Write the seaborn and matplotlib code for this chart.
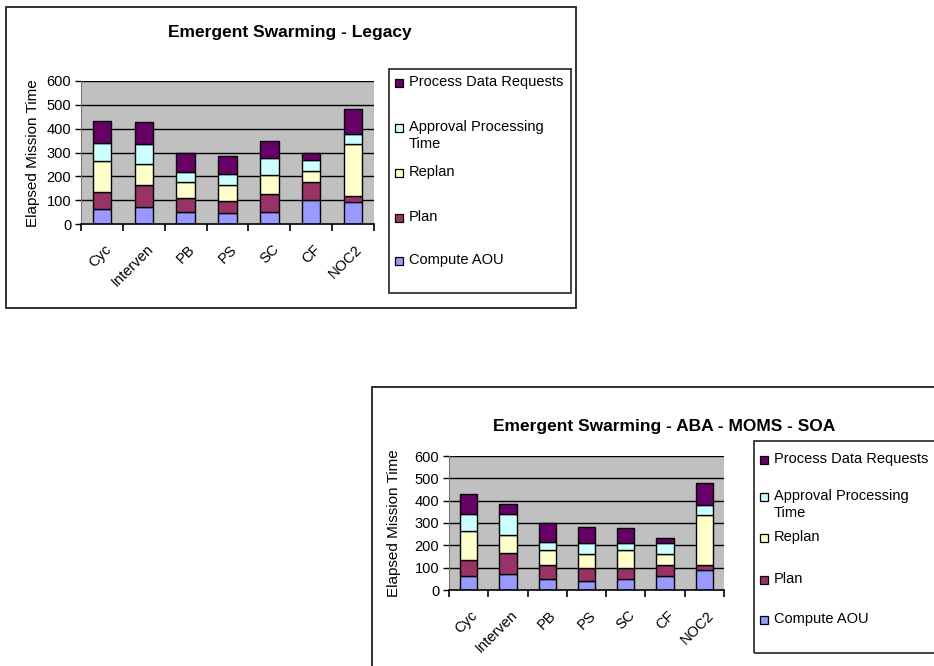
import numpy as np
import pandas as pd
import matplotlib
matplotlib.use("Agg")
import matplotlib.pyplot as plt
from matplotlib.patches import Rectangle
import seaborn as sns

# ---- data -------------------------------------------------------------
missions = ["Cyc", "Interven", "PB", "PS", "SC", "CF", "NOC2"]
series_names = ["Compute AOU", "Plan", "Replan",
                "Approval Processing Time", "Process Data Requests"]
legend_labels = ["Compute AOU", "Plan", "Replan",
                 "Approval Processing\nTime", "Process Data Requests"]

legacy_compute = [63, 72, 50, 45, 50, 99, 91]
legacy_plan = [73, 92, 61, 52, 74, 79, 27]
legacy_replan = [129, 88, 67, 67, 81, 45, 216]
legacy_approval = [73, 85, 39, 46, 74, 47, 45]
legacy_process = [94, 91, 81, 76, 68, 26, 102]

soa_compute = [64, 70, 48, 42, 48, 64, 91]
soa_plan = [71, 94, 65, 58, 52, 49, 22]
soa_replan = [128, 84, 64, 62, 77, 49, 222]
soa_approval = [76, 91, 36, 49, 34, 49, 44]
soa_process = [90, 48, 85, 73, 67, 20, 102]

y_ticks = [0, 100, 200, 300, 400, 500, 600]

colors = ["#9999FF", "#993366", "#FFFFCC", "#CCFFFF", "#660066"]

FONT = "Liberation Sans"
plt.rcParams["font.family"] = [FONT, "DejaVu Sans"]

W, H = 934, 666
fig = plt.figure(figsize=(W / 100, H / 100), dpi=100)
fig.patch.set_facecolor("white")

TICK_FS = 10.5
LEG_FS = 10.5
TITLE_FS = 12.5
YLAB_FS = 11


def px_rect(x0, y0, x1, y1, lw=1.3):
    """Rectangle given in pixel coordinates (origin top-left)."""
    r = Rectangle((x0 / W, 1 - y1 / H), (x1 - x0) / W, (y1 - y0) / H,
                  transform=fig.transFigure, fill=False,
                  edgecolor="#222222", linewidth=lw, clip_on=False)
    fig.add_artist(r)


def px_text(x, y, s, **kw):
    fig.text(x / W, 1 - y / H, s, **kw)


def stacked_chart(ax, series):
    df = pd.DataFrame({name: vals for name, vals in zip(series_names, series)},
                      index=missions)
    bottom = np.zeros(len(missions))
    for name, col in zip(series_names, colors):
        sns.barplot(x=missions, y=df[name].values, bottom=bottom, color=col,
                    edgecolor="black", linewidth=1.0, width=0.44,
                    errorbar=None, saturation=1, ax=ax)
        bottom = bottom + df[name].values
    ax.set_facecolor("#C0C0C0")
    ax.set_ylim(0, 600)
    ax.set_xlim(-0.5, len(missions) - 0.5)
    ax.set_yticks(y_ticks)
    ax.set_yticklabels([str(t) for t in y_ticks], fontsize=TICK_FS)
    for t in y_ticks[1:]:
        ax.axhline(t, color="black", linewidth=1.0, zorder=0.5)
    ax.set_axisbelow(True)
    for side in ["top", "right"]:
        ax.spines[side].set_visible(False)
    ax.spines["left"].set_color("#777777")
    ax.spines["bottom"].set_color("black")
    ax.spines["bottom"].set_linewidth(1.2)
    ax.tick_params(axis="y", length=4, width=1, direction="out", pad=3)
    # category ticks at boundaries, labels centred on bars
    ax.set_xticks(np.arange(-0.5, len(missions), 1.0))
    ax.set_xticklabels([])
    ax.tick_params(axis="x", length=5, width=1.2, direction="out")
    ax.set_xticks(np.arange(len(missions)) + 0.05, minor=True)
    ax.set_xticklabels(missions, minor=True, rotation=45, ha="right",
                       va="top", rotation_mode="anchor", fontsize=TICK_FS)
    ax.tick_params(axis="x", which="minor", length=0, pad=13)
    ax.set_xlabel("")
    ax.set_ylabel("")


def legend_block(x_sq, x_txt, ys):
    # entries listed from top (Process) to bottom (Compute)
    for lab, col, y in zip(legend_labels[::-1], colors[::-1], ys):
        fig.add_artist(Rectangle(((x_sq - 4) / W, 1 - (y + 4) / H),
                                 8 / W, 8 / H, transform=fig.transFigure,
                                 facecolor=col, edgecolor="black",
                                 linewidth=0.9))
        px_text(x_txt, y - 8, lab, fontsize=LEG_FS, va="top",
                ha="left", linespacing=1.25)


# ---- Legacy chart -----------------------------------------------------
px_rect(6, 7, 576, 308)
ax1 = fig.add_axes([81 / W, 1 - 224 / H, 293 / W, 143 / H])
stacked_chart(ax1, [legacy_compute, legacy_plan, legacy_replan,
                    legacy_approval, legacy_process])
px_text(290, 32, "Emergent Swarming - Legacy", fontsize=TITLE_FS,
        fontweight="bold", ha="center", va="center")
px_text(33, 153, "Elapsed Mission Time", fontsize=YLAB_FS, rotation=90,
        ha="center", va="center")
px_rect(389, 69, 571, 293, lw=1.2)
legend_block(399, 409, [83, 128, 173, 218, 261])

# ---- ABA - MOMS - SOA chart ------------------------------------------
px_rect(372, 387, 940, 680)
ax2 = fig.add_axes([449 / W, 1 - 590 / H, 275 / W, 134 / H])
stacked_chart(ax2, [soa_compute, soa_plan, soa_replan,
                    soa_approval, soa_process])
px_text(664, 427, "Emergent Swarming - ABA - MOMS - SOA", fontsize=TITLE_FS,
        fontweight="bold", ha="center", va="center")
px_text(394, 523, "Elapsed Mission Time", fontsize=YLAB_FS, rotation=90,
        ha="center", va="center")
px_rect(754, 441, 945, 653, lw=1.2)
legend_block(764, 774, [460, 497, 538, 580, 620])

fig.savefig("out.png", dpi=100, facecolor="white")
